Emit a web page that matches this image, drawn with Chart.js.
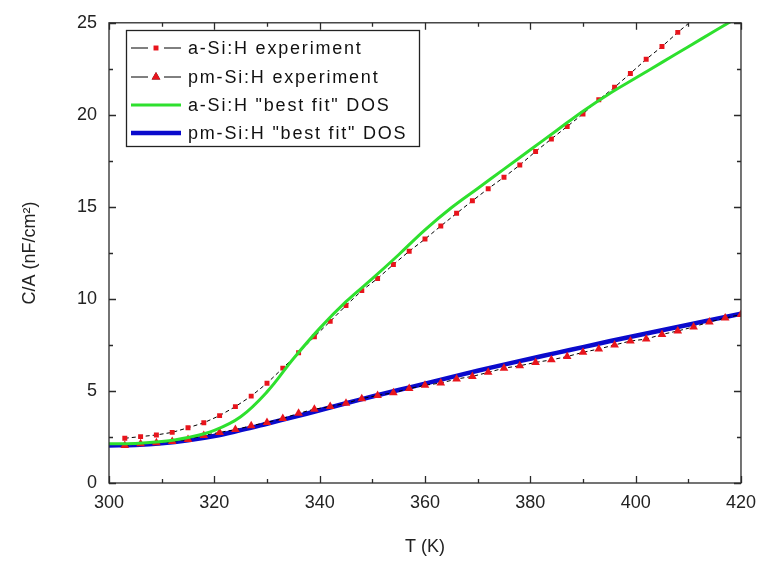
<!DOCTYPE html>
<html>
<head>
<meta charset="utf-8">
<script src="https://cdn.jsdelivr.net/npm/chart.js@4/dist/chart.umd.min.js"></script>
<style>
  html, body { margin: 0; padding: 0; background: #fff; }
  #wrap { width: 765px; height: 561px; }
</style>
</head>
<body>
<div id="wrap"><canvas id="capChart"></canvas></div>
<script>
// measured temperatures (K)
const tempExp = [303, 306, 309, 312, 315, 318, 321, 324, 327, 330,
                 333, 336, 339, 342, 345, 348, 351, 354, 357, 360,
                 363, 366, 369, 372, 375, 378, 381, 384, 387, 390,
                 393, 396, 399, 402, 405, 408, 411, 414, 417, 420];
// a-Si:H experiment (nF/cm2), goes off the top after 411 K
const aSiExp = [2.43, 2.52, 2.61, 2.75, 3.00, 3.27, 3.66, 4.15, 4.72, 5.42,
                6.24, 7.08, 7.94, 8.78, 9.64, 10.45, 11.11, 11.87, 12.59, 13.25,
                13.96, 14.65, 15.33, 15.99, 16.61, 17.27, 18.01, 18.69, 19.37, 20.05,
                20.82, 21.50, 22.25, 23.02, 23.71, 24.48, 25.20];
// pm-Si:H experiment
const pmSiExp = [2.04, 2.13, 2.18, 2.25, 2.36, 2.58, 2.75, 2.90, 3.11, 3.29,
                 3.50, 3.79, 4.01, 4.15, 4.33, 4.58, 4.76, 4.90, 5.13, 5.31,
                 5.43, 5.65, 5.79, 6.01, 6.24, 6.37, 6.55, 6.69, 6.87, 7.10,
                 7.28, 7.50, 7.71, 7.82, 8.07, 8.26, 8.48, 8.75, 8.96, 9.16];

// simulated curves ("best fit" DOS)
const tempFit = [300, 305, 310, 315, 320, 325, 330, 335, 340, 345, 350, 355, 360,
                 365, 370, 375, 380, 385, 390, 395, 400, 405, 410, 415, 420];
const aSiFit = [2.13, 2.15, 2.25, 2.47, 2.86, 3.60, 4.95, 6.75, 8.40, 9.85, 11.10, 12.40, 13.75,
                14.95, 16.00, 17.05, 18.10, 19.15, 20.20, 21.15, 22.00, 22.85, 23.70, 24.55, 25.40];
const pmSiFit = [2.04, 2.07, 2.16, 2.32, 2.55, 2.87, 3.22, 3.58, 3.95, 4.33, 4.70, 5.05, 5.40,
                 5.75, 6.10, 6.43, 6.75, 7.07, 7.38, 7.70, 8.00, 8.30, 8.60, 8.90, 9.19];

const xTicks = [300, 320, 340, 360, 380, 400, 420];
const yTicks = [0, 5, 10, 15, 20, 25];

const FONT = "'Liberation Sans', Arial, sans-serif";

function toPoints(xs, ys) {
    return ys.map((v, i) => ({ x: xs[i], y: v }));
}

// рамка и засечки внутрь по всем четырём сторонам
const frameTicks = {
    id: 'frameTicks',
    afterDatasetsDraw(chart) {
        const { ctx, chartArea: a, scales: { x, y } } = chart;
        const withMinor = vals => {
            const out = [];
            vals.forEach((v, i) => {
                out.push({ v, major: true });
                if (i < vals.length - 1) out.push({ v: (v + vals[i + 1]) / 2, major: false });
            });
            return out;
        };
        ctx.save();
        ctx.strokeStyle = '#2a2a2a';
        ctx.lineWidth = 1.3;
        ctx.beginPath();
        withMinor(x.ticks.map(t => t.value)).forEach(t => {
            const px = Math.round(x.getPixelForValue(t.v)) + 0.5;
            const len = t.major ? 7 : 4;
            ctx.moveTo(px, a.bottom); ctx.lineTo(px, a.bottom - len);
            ctx.moveTo(px, a.top); ctx.lineTo(px, a.top + len);
        });
        withMinor(y.ticks.map(t => t.value)).forEach(t => {
            const py = Math.round(y.getPixelForValue(t.v)) + 0.5;
            const len = t.major ? 7 : 4;
            ctx.moveTo(a.left, py); ctx.lineTo(a.left + len, py);
            ctx.moveTo(a.right, py); ctx.lineTo(a.right - len, py);
        });
        ctx.stroke();
        ctx.strokeRect(a.left, a.top, a.width, a.height);
        ctx.restore();
    }
};

// легенда в рамке внутри области графика
const boxLegend = {
    id: 'boxLegend',
    afterDraw(chart) {
        const { ctx } = chart;
        const sets = chart.data.datasets;
        const rows = [48, 77, 105, 133];
        ctx.save();
        ctx.fillStyle = '#fff';
        ctx.fillRect(126, 30, 293, 116);
        ctx.strokeStyle = '#222';
        ctx.lineWidth = 1.3;
        ctx.strokeRect(126.5, 30.5, 293, 116);
        ctx.font = '18px ' + FONT;
        ctx.textBaseline = 'middle';
        ctx.letterSpacing = '1.8px';
        sets.forEach((ds, i) => {
            const yy = rows[i];
            if (ds.pointStyle !== false && ds.pointRadius > 0) {
                ctx.strokeStyle = '#000';
                ctx.lineWidth = 1;
                ctx.beginPath();
                ctx.moveTo(131, yy); ctx.lineTo(148, yy);
                ctx.moveTo(164, yy); ctx.lineTo(181, yy);
                ctx.stroke();
                Chart.helpers.drawPoint(ctx, {
                    pointStyle: ds.pointStyle, radius: ds.pointRadius, rotation: 0, borderWidth: 0
                }, 156, yy);
                ctx.fillStyle = ds.pointBackgroundColor;
                ctx.fill();
            } else {
                ctx.strokeStyle = ds.borderColor;
                ctx.lineWidth = ds.borderWidth;
                ctx.beginPath();
                ctx.moveTo(131, yy); ctx.lineTo(181, yy);
                ctx.stroke();
            }
            ctx.fillStyle = '#111';
            ctx.fillText(ds.label, 188, yy + 1);
        });
        ctx.restore();
    }
};

const ctx = document.getElementById('capChart').getContext('2d');
new Chart(ctx, {
    type: 'line',
    data: {
        datasets: [
            {
                label: 'a-Si:H experiment',
                data: toPoints(tempExp, aSiExp),
                borderColor: '#000',
                borderWidth: 1,
                borderDash: [4, 3],
                pointStyle: 'rect',
                pointRadius: 3.5,
                pointBackgroundColor: '#e8141c',
                pointBorderWidth: 0,
                clip: 0,
                order: 2
            },
            {
                label: 'pm-Si:H experiment',
                data: toPoints(tempExp, pmSiExp),
                borderColor: '#000',
                borderWidth: 1,
                borderDash: [4, 3],
                pointStyle: 'triangle',
                pointRadius: 5,
                pointBackgroundColor: '#e8141c',
                pointBorderWidth: 0,
                clip: 0,
                order: 1
            },
            {
                label: 'a-Si:H "best fit" DOS',
                data: toPoints(tempFit, aSiFit),
                borderColor: '#2ee02e',
                borderWidth: 3,
                pointRadius: 0,
                pointStyle: false,
                tension: 0.4,
                clip: 0,
                order: 0
            },
            {
                label: 'pm-Si:H "best fit" DOS',
                data: toPoints(tempFit, pmSiFit),
                borderColor: '#0a0acc',
                borderWidth: 4.5,
                pointRadius: 0,
                pointStyle: false,
                tension: 0.4,
                clip: 0,
                order: 3
            }
        ]
    },
    options: {
        responsive: true,
        maintainAspectRatio: false,
        animation: false,
        layout: { padding: { left: 0, top: 17, right: 22, bottom: 0 } },
        plugins: {
            legend: { display: false },
            tooltip: { enabled: false }
        },
        scales: {
            x: {
                type: 'linear',
                min: 300,
                max: 420,
                afterBuildTicks: s => { s.ticks = xTicks.map(v => ({ value: v })); },
                afterFit: s => { s.height = 78; },
                grid: { display: false, drawTicks: false },
                border: { display: false },
                ticks: { color: '#222', padding: 9, font: { family: FONT, size: 18 } },
                title: {
                    display: true,
                    text: 'T (K)',
                    color: '#222',
                    padding: { top: 0, bottom: 3 },
                    font: { family: FONT, size: 18 }
                }
            },
            y: {
                min: 0,
                max: 25,
                afterBuildTicks: s => { s.ticks = yTicks.map(v => ({ value: v })); },
                afterFit: s => { s.width = 109; },
                grid: { display: false, drawTicks: false },
                border: { display: false },
                ticks: { color: '#222', padding: 12, font: { family: FONT, size: 18 } },
                title: {
                    display: true,
                    text: 'C/A (nF/cm²)',
                    color: '#222',
                    padding: { top: 19, bottom: 0 },
                    font: { family: FONT, size: 18 }
                }
            }
        }
    },
    plugins: [frameTicks, boxLegend]
});
</script>
</body>
</html>
